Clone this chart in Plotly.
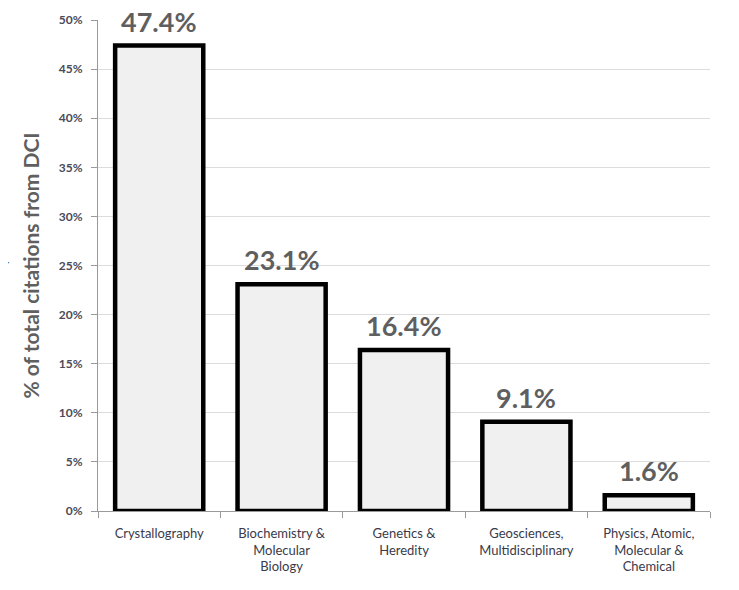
import plotly.graph_objects as go

categories = ["Crystallography", "Biochemistry &<br>Molecular<br>Biology", "Genetics &<br>Heredity",
              "Geosciences,<br>Multidisciplinary", "Physics, Atomic,<br>Molecular &<br>Chemical"]
values = [47.4, 23.1, 16.4, 9.1, 1.6]
labels = ["47.4%", "23.1%", "16.4%", "9.1%", "1.6%"]
y_ticks = [0, 5, 10, 15, 20, 25, 30, 35, 40, 45, 50]
y_tick_labels = [f"{v}%" for v in y_ticks]

fig = go.Figure(go.Bar(
    x=categories, y=values,
    marker=dict(color="#f0f0f0", line=dict(color="black", width=4.5)),
    width=0.72, cliponaxis=False,
))

for c, v, t in zip(categories, values, labels):
    fig.add_annotation(x=c, y=v, text=t, showarrow=False, yanchor="bottom", yshift=6,
                       font=dict(family="Lato", size=27, color="#5f5f5f", weight="bold"))

# small blue arrow artefact at the left edge of the reference
fig.add_shape(type="path", xref="paper", yref="paper",
              path="M -0.160,0.493 L -0.149,0.505 L -0.156,0.507",
              line=dict(color="#2f7fd0", width=2.5))

fig.update_layout(
    width=739, height=590,
    margin=dict(l=90, r=37, t=12, b=87),
    paper_bgcolor="white", plot_bgcolor="white",
    font=dict(family="Lato", color="#3a3a4a", size=12),
    showlegend=False,
)
fig.update_yaxes(
    range=[0, 50], tickvals=y_ticks, ticktext=y_tick_labels, automargin=False,
    showgrid=True, gridcolor="#dcdcdc", gridwidth=1,
    showline=True, linecolor="#9a9a9a", linewidth=1,
    ticks="outside", ticklen=6, tickcolor="#9a9a9a", ticklabelstandoff=6,
    tickfont=dict(size=12, color="#4a4a5a", family="Lato", weight="bold"),
    title=dict(text="% of total citations from DCI", standoff=13,
               font=dict(size=21, color="#5f5f5f", family="Lato", weight="bold")),
    zeroline=False,
)
fig.update_xaxes(
    showline=True, linecolor="#9a9a9a", linewidth=1, automargin=False,
    ticks="outside", ticklen=6, tickcolor="#9a9a9a", tickson="boundaries",
    ticklabelstandoff=10,
    tickfont=dict(size=13, color="#3a3a4a", family="Lato"),
    range=[-0.5, 4.5],
)

fig.write_html("out.html")
